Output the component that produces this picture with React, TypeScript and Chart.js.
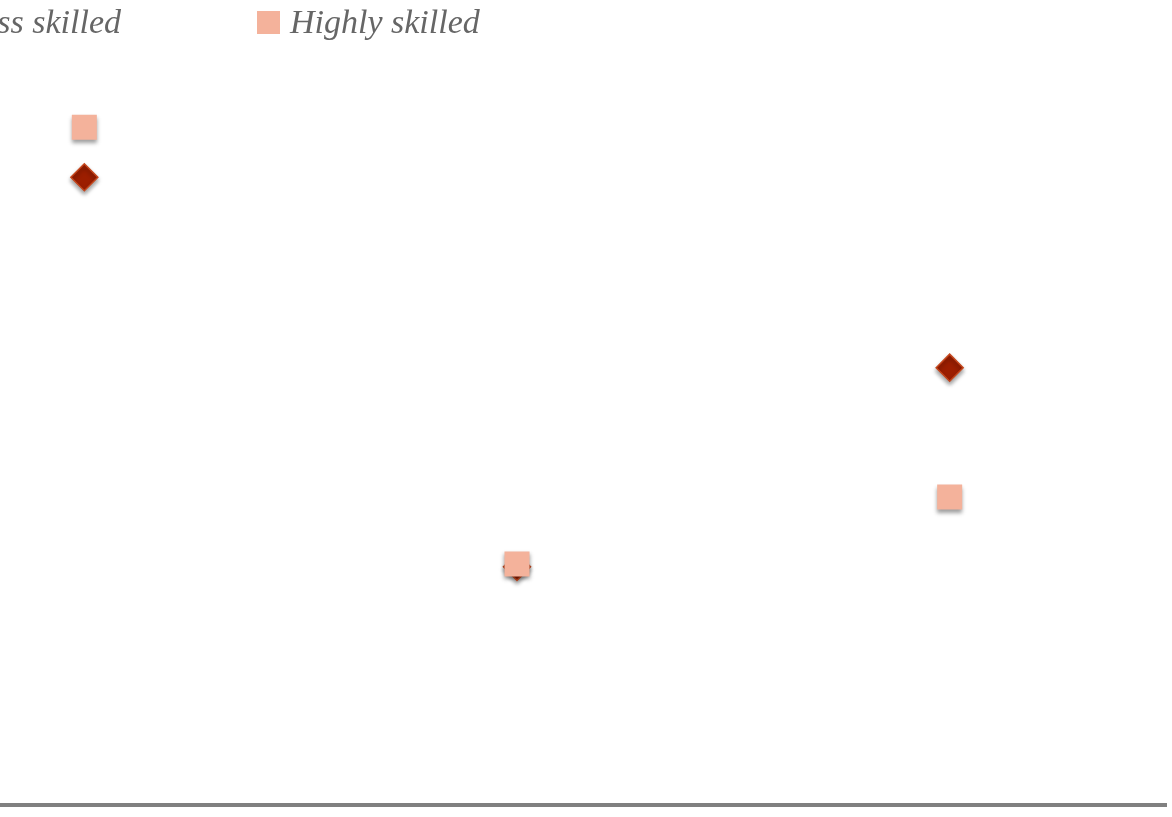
import React, { useEffect, useRef } from "react";
import { Chart, registerables } from "chart.js";

Chart.register(...registerables);

const categories = ["Group A", "Group B", "Group C"];
const lessSkilled = [85.4, 32.4, 59.5];
const highlySkilled = [92.2, 32.8, 41.9];
const seriesNames = ["Less skilled", "Highly skilled"];

const DIAMOND_FILL = "#9c1e00";
const DIAMOND_EDGE = "#c4461c";
const SQUARE_FILL = "#f4b29b";
const TEXT_COLOR = "#666666";
const FONT = "italic 34px 'Liberation Serif', 'DejaVu Serif', serif";

const shadowPlugin = {
  id: "markerShadow",
  beforeDatasetsDraw(chart: any) {
    const ctx = chart.ctx;
    ctx.save();
    ctx.shadowColor = "rgba(0,0,0,0.38)";
    ctx.shadowBlur = 4;
    ctx.shadowOffsetX = 0;
    ctx.shadowOffsetY = 3;
  },
  afterDatasetsDraw(chart: any) {
    chart.ctx.restore();
  },
};

const legendPlugin = {
  id: "customLegend",
  afterDraw(chart: any) {
    const ctx = chart.ctx;
    ctx.save();
    ctx.font = FONT;
    ctx.fillStyle = TEXT_COLOR;
    ctx.textBaseline = "alphabetic";
    // Less skilled (partly outside view)
    ctx.textAlign = "right";
    const lessEnd = 253;
    const lw = ctx.measureText(seriesNames[0]).width;
    ctx.fillText(seriesNames[0], lessEnd, 33);
    ctx.fillStyle = DIAMOND_FILL;
    ctx.fillRect(lessEnd - lw - 33, 11, 23, 23);
    // Highly skilled
    ctx.fillStyle = SQUARE_FILL;
    ctx.fillRect(389, 11, 23, 23);
    ctx.fillStyle = TEXT_COLOR;
    ctx.textAlign = "left";
    ctx.fillText(seriesNames[1], 422, 33);
    ctx.restore();
  },
};

export default function App() {
  const ref = useRef<HTMLCanvasElement | null>(null);
  useEffect(() => {
    if (!ref.current) return;
    const chart = new Chart(ref.current, {
      type: "line",
      data: {
        labels: categories,
        datasets: [
          {
            label: seriesNames[1],
            data: highlySkilled,
            showLine: false,
            pointStyle: "rect",
            pointRadius: 17.7,
            pointHoverRadius: 17.7,
            pointBackgroundColor: SQUARE_FILL,
            pointBorderColor: SQUARE_FILL,
            pointBorderWidth: 0,
            order: 0,
          },
          {
            label: seriesNames[0],
            data: lessSkilled,
            showLine: false,
            pointStyle: "rectRot",
            pointRadius: 13.5,
            pointHoverRadius: 13.5,
            pointBackgroundColor: DIAMOND_FILL,
            pointBorderColor: DIAMOND_EDGE,
            pointBorderWidth: 1.5,
            order: 1,
          },
        ],
      },
      options: {
        animation: false,
        responsive: true,
        maintainAspectRatio: false,
        layout: { autoPadding: false, padding: { top: 70, right: 6, left: 0, bottom: 4 } },
        plugins: { legend: { display: false }, tooltip: { enabled: false } },
        scales: {
          x: {
            type: "category",
            offset: true,
            grid: { display: false },
            ticks: { display: false },
            border: { display: true, color: "#808080", width: 4 },
          },
          y: {
            display: false,
            min: 0,
            max: 100,
          },
        },
      },
      plugins: [shadowPlugin, legendPlugin],
    });
    return () => chart.destroy();
  }, []);
  return (
    <div
      style={{
        position: "fixed",
        left: -132,
        top: 0,
        width: 1304,
        height: 817,
        background: "#ffffff",
      }}
    >
      <canvas ref={ref} />
    </div>
  );
}
